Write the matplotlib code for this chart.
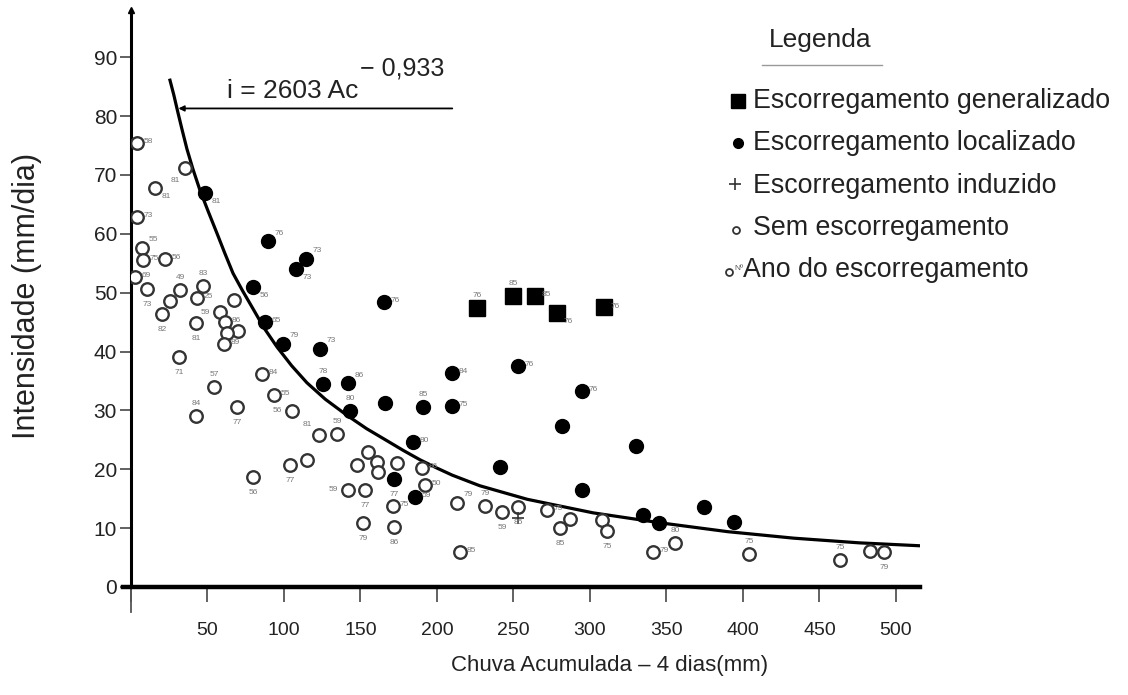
import matplotlib.pyplot as plt
import numpy as np

plt.rcParams['font.family'] = ['Liberation Sans', 'DejaVu Sans']

# valores (chuva acumulada 4 dias [mm], intensidade [mm/dia])
sem_x = [3.9, 35.3, 15.7, 3.9, 7.2, 7.8, 22.2, 2.6, 10.5, 25.5, 32.0, 47.1, 43.1,
         20.3, 42.5, 58.2, 61.4, 69.9, 62.7, 60.8, 67.3, 31.4, 54.2, 42.5, 69.3,
         85.6, 93.5, 105.2, 122.9, 134.6, 79.7, 103.9, 115.0, 154.9, 160.8, 147.7,
         161.4, 173.9, 190.2, 192.2, 213.1, 141.8, 152.9, 171.2, 151.6, 171.9,
         215.0, 231.4, 242.5, 252.9, 271.9, 286.9, 280.4, 307.8, 311.1, 341.2,
         355.6, 403.9, 463.4, 483.0, 492.2]
sem_y = [75.4, 71.1, 67.7, 62.8, 57.6, 55.5, 55.7, 52.6, 50.6, 48.6, 50.4, 51.1, 49.1,
         46.3, 44.8, 46.7, 45.0, 43.5, 43.1, 41.3, 48.7, 39.0, 34.0, 29.0, 30.6,
         36.2, 32.6, 29.9, 25.8, 26.0, 18.7, 20.7, 21.6, 22.9, 21.2, 20.7,
         19.5, 21.1, 20.2, 17.3, 14.3, 16.5, 16.5, 13.8, 10.9, 10.2,
         5.9, 13.8, 12.7, 13.6, 13.1, 11.5, 10.0, 11.4, 9.5, 5.9,
         7.5, 5.6, 4.6, 6.1, 5.9]
sem_ano = ['58', '81', '81', '73', '55', '75', '56', '69', '73', '', '49', '83', '25',
           '82', '81', '59', '86', '', '', '89', '', '71', '57', '84', '77',
           '84', '55', '56', '81', '59', '56', '77', '', '', '', '',
           '', '', '86', '50', '79', '59', '77', '75', '79', '86',
           '85', '79', '59', '85', '75', '', '85', '', '75', '79',
           '80', '75', '75', '', '79']
sem_pos = ['r', 'bl', 'br', 'r', 'tr', 'r', 'r', 'r', 'b', 'r', 'a', 'a', 'r',
           'b', 'b', 'l', 'r', 'r', 'r', 'r', 'r', 'b', 'a', 'a', 'b',
           'r', 'r', 'l', 'al', 'a', 'b', 'b', 'r', 'r', 'r', 'r',
           'r', 'r', 'r', 'r', 'tr', 'l', 'b', 'r', 'b', 'b',
           'r', 'a', 'b', 'b', 'r', 'r', 'b', 'r', 'b', 'r',
           'a', 'a', 'a', 'r', 'b']

loc_x = [48.4, 89.5, 114.4, 107.8, 79.7, 87.6, 99.3, 123.5, 125.5, 141.8, 143.1,
         166.0, 190.8, 209.8, 209.8, 165.4, 184.3, 171.9, 185.6, 252.9, 294.8,
         281.7, 330.1, 241.2, 294.8, 334.6, 345.1, 374.5, 394.1]
loc_y = [66.9, 58.7, 55.7, 54.0, 50.9, 45.0, 41.3, 40.4, 34.5, 34.6, 29.9,
         31.2, 30.6, 30.7, 36.3, 48.4, 24.6, 18.3, 15.3, 37.5, 33.3,
         27.3, 23.9, 20.4, 16.5, 12.2, 10.9, 13.6, 11.0]
loc_ano = ['81', '76', '73', '73', '56', '65', '79', '73', '78', '86', '80',
           '', '85', '75', '84', '76', '80', '77', '59', '76', '76',
           '', '', '', '', '', '', '', '']
loc_pos = ['br', 'tr', 'tr', 'br', 'br', 'r', 'tr', 'tr', 'a', 'tr', 'a',
           'r', 'a', 'r', 'r', 'r', 'r', 'b', 'r', 'r', 'r',
           'r', 'r', 'r', 'r', 'r', 'r', 'r', 'r']

gen_x = [226.1, 249.7, 264.1, 278.4, 309.2]
gen_y = [47.4, 49.4, 49.4, 46.5, 47.5]
gen_ano = ['76', '85', '85', '76', '76']
gen_pos = ['a', 'a', 'r', 'br', 'r']

ind_x = [252.9]
ind_y = [11.7]

curva_x = [25.5, 28.0, 30.7, 33.5, 36.6, 40.5, 45.1, 50.5, 56.2, 61.5, 66.7, 73.0,
           79.7, 87.0, 95.4, 105, 115, 127, 141, 154, 167, 178, 189, 200,
           210, 228, 259, 302, 346, 390, 433, 476, 516]
curva_y = [86.1, 83.6, 80.6, 77.6, 74.4, 71.0, 67.4, 63.8, 60.1, 56.6, 53.3, 50.3,
           47.3, 44.0, 40.8, 37.6, 34.7, 31.9, 29.2, 26.9, 24.9, 23.2, 21.6, 20.2,
           19.0, 17.2, 14.9, 12.6, 10.9, 9.4, 8.3, 7.5, 7.0]

xticks = [0, 50, 100, 150, 200, 250, 300, 350, 400, 450, 500]
yticks = [0, 10, 20, 30, 40, 50, 60, 70, 80, 90]

offs = {'r': (5, 1), 'l': (-14, 0), 'a': (-3, 9), 'b': (-3, -11), 'tr': (5, 6),
        'br': (5, -6), 'bl': (-10, -9), 'al': (-12, 8)}

txt = '#222222'
fig = plt.figure(figsize=(11.28, 6.95), dpi=100)
ax = fig.add_axes([0.1161, 0.1554, 0.6995, 0.83])


def rotular(xs, ys, anos, pos):
    for x, y, a, p in zip(xs, ys, anos, pos):
        if a:
            ax.annotate(a, (x, y), xytext=offs[p], textcoords='offset points',
                        fontsize=6, color='#777777', va='center', ha='left')


ax.plot(curva_x, curva_y, color='black', lw=2.3, zorder=2)
ax.plot(sem_x, sem_y, 'o', ms=9, mfc='white', mec='#333333', mew=1.7, ls='none', zorder=3)
ax.plot(loc_x, loc_y, 'o', ms=10, color='black', ls='none', zorder=3)
ax.plot(gen_x, gen_y, 's', ms=12, color='black', ls='none', zorder=3)
ax.plot(ind_x, ind_y, '+', ms=8, mew=1.2, color='#333333', ls='none', zorder=3)
rotular(sem_x, sem_y, sem_ano, sem_pos)
rotular(loc_x, loc_y, loc_ano, loc_pos)
rotular(gen_x, gen_y, gen_ano, gen_pos)

# equação
ax.annotate('', xy=(31, 81.3), xytext=(210, 81.3),
            arrowprops=dict(arrowstyle='-|>', color='black', lw=1.3,
                            mutation_scale=8, shrinkA=0, shrinkB=0))
ax.text(63, 83.0, 'i = 2603 Ac', fontsize=19, color=txt, va='baseline')
ax.text(150, 86.9, '\u2212 0,933', fontsize=18, color=txt, va='baseline')

ax.set_xlim(0, 515.7)
ax.set_ylim(0, 98)
ax.set_xticks(xticks)
ax.set_xticklabels([''] + [str(v) for v in xticks[1:]])
ax.set_yticks(yticks)
ax.tick_params(axis='x', length=11, width=1.3, color='#555555', labelsize=14,
               labelcolor=txt, pad=14)
ax.tick_params(axis='y', length=8, width=1.3, color='#555555', labelsize=15,
               labelcolor=txt, pad=2)
for s in ['top', 'right']:
    ax.spines[s].set_visible(False)
ax.spines['bottom'].set_linewidth(3.2)
ax.spines['left'].set_linewidth(2.2)
ax.spines['bottom'].set_bounds(-5, 515.7)
ax.plot([0], [1.0], marker='^', ms=5, color='black', transform=ax.transAxes,
        clip_on=False)
ax.plot([0, 0], [0, -0.043], color='#555555', lw=1.3,
        transform=ax.get_xaxis_transform(), clip_on=False)
ax.set_xlabel('Chuva Acumulada \u2013 4 dias(mm)', fontsize=16, color=txt)
ax.xaxis.set_label_coords(0.607, -0.118)
ax.set_ylabel('Intensidade (mm/dia)', fontsize=22, color=txt)
ax.yaxis.set_label_coords(-0.113, 0.505)

# legenda
fig.text(820 / 1128, 1 - 40 / 695, 'Legenda', fontsize=19, color=txt, ha='center', va='center')
fig.add_artist(plt.Line2D([762 / 1128, 882 / 1128], [1 - 65 / 695] * 2, color='#999999', lw=1))
itens = ['Escorregamento generalizado', 'Escorregamento localizado',
         'Escorregamento induzido', 'Sem escorregamento', 'Ano do escorregamento']
ys_leg = [101, 143, 186, 228, 270]
for i, (lab, yp) in enumerate(zip(itens, ys_leg)):
    yf = 1 - yp / 695
    xt = 753 / 1128 if i < 4 else 743 / 1128
    fig.text(xt, yf, lab, fontsize=19.3, color=txt, ha='left', va='center')
mk = dict(transform=fig.transFigure, ls='none', clip_on=False)
fig.add_artist(plt.Line2D([738 / 1128], [1 - 101 / 695], marker='s', ms=10, color='black', **mk))
fig.add_artist(plt.Line2D([738 / 1128], [1 - 143 / 695], marker='o', ms=7, color='black', **mk))
fig.add_artist(plt.Line2D([735 / 1128], [1 - 184 / 695], marker='+', ms=8, mew=1.2, color='#333333', **mk))
fig.add_artist(plt.Line2D([736 / 1128], [1 - 230 / 695], marker='o', ms=5, mfc='white', mec='#333333', mew=1.3, **mk))
fig.add_artist(plt.Line2D([729 / 1128], [1 - 272 / 695], marker='o', ms=5, mfc='white', mec='#333333', mew=1.3, **mk))
fig.text(734 / 1128, 1 - 268 / 695, 'Nº', fontsize=6, color='#555555', ha='left', va='center')

fig.savefig('out.png', dpi=100)
